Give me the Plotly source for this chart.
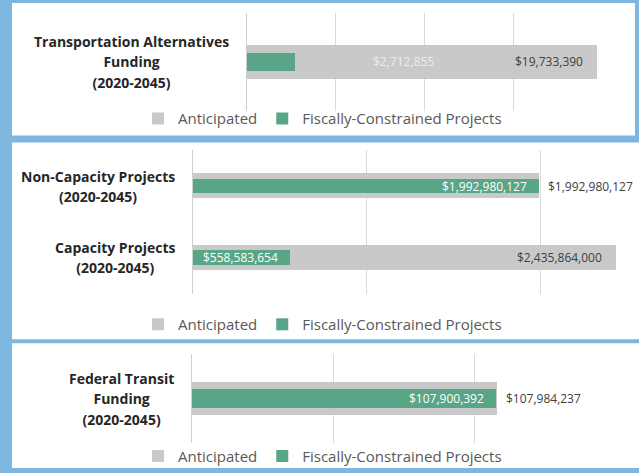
import plotly.graph_objects as go

# ---------------- data ----------------
series_names = ["Anticipated", "Fiscally-Constrained Projects"]

ta_categories = ["Transportation Alternatives<br>Funding<br>(2020-2045)"]
ta_anticipated = [19733390]
ta_fiscal = [2712855]

proj_categories = ["Non-Capacity Projects<br>(2020-2045)", "Capacity Projects<br>(2020-2045)"]
proj_anticipated = [1992980127, 2435864000]
proj_fiscal = [1992980127, 558583654]

ft_categories = ["Federal Transit<br>Funding<br>(2020-2045)"]
ft_anticipated = [107984237]
ft_fiscal = [107900392]

ta_grid = [5e6, 10e6, 15e6]
proj_grid = [0, 1e9, 2e9]
ft_grid = [50e6, 100e6]

# ---------------- style ----------------
W, H = 639, 473
BLUE = "#7db6df"
GREY = "#c9c9c9"
GREEN = "#58a687"
GRID = "#d9d9d9"
FONT = "Open Sans"


def money(v):
    return "${:,.0f}".format(v)


def py(px):
    return 1 - px / H


def px_(x):
    return x / W


def label_html(cat):
    lines = cat.split("<br>")
    return "<br>".join('<span style="font-size:14px">' + s + "</span>" for s in lines)


fig = go.Figure()

panels = [
    dict(cats=ta_categories, ant=ta_anticipated, fis=ta_fiscal, grid=ta_grid,
         xr=[0, 20e6], xd=[247, 602], yd=[13, 112], wg=0.35, wf=0.19,
         ant_lab=["inside"], fis_lab=["after"], legend="legend", ax="", leg_y=120),
    dict(cats=proj_categories, ant=proj_anticipated, fis=proj_fiscal, grid=proj_grid,
         xr=[0, 2.5e9], xd=[193, 627], yd=[152, 297], wg=0.345, wf=0.2,
         ant_lab=["outside", "inside"], fis_lab=["inside", "inside"], legend="legend2", ax="2", leg_y=328),
    dict(cats=ft_categories, ant=ft_anticipated, fis=ft_fiscal, grid=ft_grid,
         xr=[0, 150e6], xd=[192, 615], yd=[358, 448], wg=0.37, wf=0.21,
         ant_lab=["outside"], fis_lab=["inside"], legend="legend3", ax="3", leg_y=461),
]

annotations = []
for p in panels:
    xa = "x" + p["ax"]
    ya = "y" + p["ax"]
    fig.add_trace(go.Bar(
        y=p["cats"], x=p["ant"], orientation="h", name=series_names[0],
        marker=dict(color=GREY, line=dict(width=0)), width=p["wg"],
        xaxis=xa, yaxis=ya, legend=p["legend"], hoverinfo="x+name"))
    fig.add_trace(go.Bar(
        y=p["cats"], x=p["fis"], orientation="h", name=series_names[1],
        marker=dict(color=GREEN, line=dict(width=0)), width=p["wf"],
        xaxis=xa, yaxis=ya, legend=p["legend"], hoverinfo="x+name"))

    # category labels
    for c in p["cats"]:
        annotations.append(dict(
            text="<b>" + label_html(c) + "</b>", x=0, y=c, xref=xa + " domain", yref=ya,
            xanchor="right", yanchor="middle", xshift=-16, align="center",
            showarrow=False, font=dict(family=FONT, size=15.6, color="#262626")))

    # value labels
    for c, v, pos in zip(p["cats"], p["ant"], p["ant_lab"]):
        if pos == "inside":
            annotations.append(dict(text=money(v), x=v, y=c, xref=xa, yref=ya,
                                    xanchor="right", xshift=-12, showarrow=False,
                                    font=dict(family=FONT, size=12, color="#404040")))
        else:
            annotations.append(dict(text=money(v), x=v, y=c, xref=xa, yref=ya,
                                    xanchor="left", xshift=7, showarrow=False,
                                    font=dict(family=FONT, size=12, color="#404040")))
    for c, v, pos in zip(p["cats"], p["fis"], p["fis_lab"]):
        if pos == "inside":
            annotations.append(dict(text=money(v), x=v, y=c, xref=xa, yref=ya,
                                    xanchor="right", xshift=-10, showarrow=False,
                                    font=dict(family=FONT, size=12, color="#ffffff")))
        else:
            annotations.append(dict(text=money(v), x=v, y=c, xref=xa, yref=ya,
                                    xanchor="left", xshift=76, showarrow=False,
                                    font=dict(family=FONT, size=12, color="#ececec")))

    xaxis = dict(domain=[px_(p["xd"][0]), px_(p["xd"][1])], range=p["xr"],
                 tickvals=p["grid"], showticklabels=False, showgrid=True,
                 gridcolor=GRID, gridwidth=1, zeroline=False, showline=False,
                 anchor=ya, fixedrange=True)
    yaxis = dict(domain=[py(p["yd"][1]), py(p["yd"][0])], categoryorder="array",
                 categoryarray=list(reversed(p["cats"])), showticklabels=False,
                 showgrid=False, showline=True, linecolor="#cfcfcf", linewidth=1,
                 zeroline=False, anchor=xa, fixedrange=True)
    fig.layout["xaxis" + p["ax"]] = xaxis
    fig.layout["yaxis" + p["ax"]] = yaxis
    fig.layout[p["legend"]] = dict(
        orientation="h", x=px_(138), xanchor="left", y=py(p["leg_y"]),
        yanchor="middle", bgcolor="rgba(0,0,0,0)", traceorder="normal",
        font=dict(family=FONT, size=15, color="#595959"), itemwidth=30,
        itemclick=False, itemdoubleclick=False)

shapes = [
    dict(type="rect", xref="paper", yref="paper", x0=px_(12), x1=px_(635), y0=py(137), y1=py(3),
         fillcolor="white", line=dict(width=0), layer="below"),
    dict(type="rect", xref="paper", yref="paper", x0=px_(12), x1=1, y0=py(343), y1=py(144),
         fillcolor="white", line=dict(width=0), layer="below"),
    dict(type="rect", xref="paper", yref="paper", x0=px_(12), x1=1, y0=0, y1=py(347),
         fillcolor="white", line=dict(width=0), layer="below"),
]

fig.update_layout(
    width=W, height=H, margin=dict(l=0, r=0, t=0, b=0),
    paper_bgcolor=BLUE, plot_bgcolor="rgba(0,0,0,0)",
    barmode="overlay", bargap=0, showlegend=True,
    shapes=shapes, annotations=annotations,
    font=dict(family=FONT),
)

fig.write_html("out.html", config={"displayModeBar": False},
               post_script="document.body.style.margin='0';document.body.style.overflow='hidden';")
